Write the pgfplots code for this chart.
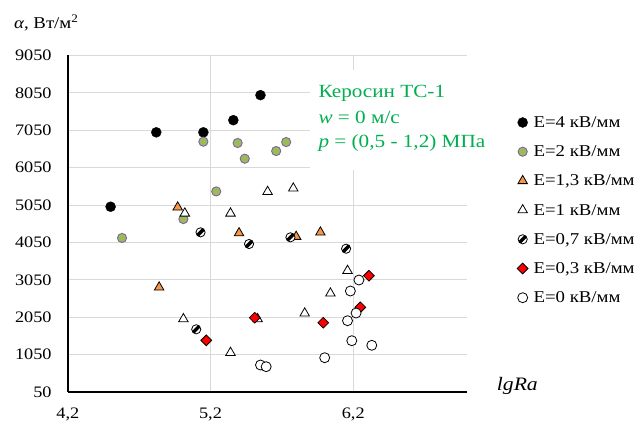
\documentclass[border=0pt]{standalone}
\usepackage{fontspec}
\setmainfont{Liberation Serif}[FakeStretch=1.14]
\usepackage{pgfplots}
\pgfplotsset{compat=1.18}
\definecolor{olivegr}{HTML}{9BBB59}
\definecolor{lavpurp}{HTML}{8064A2}
\definecolor{orng}{HTML}{F79646}
\definecolor{gridgray}{HTML}{D9D9D9}
\definecolor{txtgreen}{HTML}{00B050}
\pgfdeclareplotmark{slashcirc}{%
  \pgfpathcircle{\pgfpointorigin}{\pgfplotmarksize}%
  \pgfsetfillcolor{white}\pgfusepathqfill
  \begin{pgfscope}
    \pgfpathcircle{\pgfpointorigin}{\pgfplotmarksize}\pgfusepathqclip
    \pgfsetlinewidth{0.75\pgfplotmarksize}%
    \pgfsetstrokecolor{black}%
    \pgfpathmoveto{\pgfpoint{-\pgfplotmarksize}{-\pgfplotmarksize}}%
    \pgfpathlineto{\pgfpoint{\pgfplotmarksize}{\pgfplotmarksize}}%
    \pgfusepathqstroke
  \end{pgfscope}
  \pgfsetstrokecolor{black}%
  \pgfpathcircle{\pgfpointorigin}{\pgfplotmarksize}%
  \pgfusepathqstroke
}
\pgfplotsset{
  mk/.style={only marks, legend image code/.code={\draw[##1] plot coordinates {(0pt,0pt)};}},
}
\begin{document}
\begin{tikzpicture}
\path[use as bounding box] (0,0) rectangle (635pt,423pt);
\begin{axis}[
  scale only axis, width=399.6pt, height=336.5pt,
  at={(67.8pt,31pt)}, anchor=south west,
  xmin=4.2, xmax=7.0, ymin=50, ymax=9050,
  xtick={4.2,5.2,6.2}, xticklabels={{4,2},{5,2},{6,2}},
  ytick={50,1050,2050,3050,4050,5050,6050,7050,8050,9050},
  yticklabels={50,1050,2050,3050,4050,5050,6050,7050,8050,9050},
  grid=major, major grid style={draw=gridgray, line width=0.8pt},
  axis lines*=left, axis line style={-, line width=1.6pt, black},
  major tick length=0pt,
  tick label style={font=\fontsize{16}{19}\selectfont, inner sep=0pt},
  yticklabel style={anchor=east, xshift=-16pt},
  xticklabel style={anchor=north, yshift=-15.7pt},
  clip=false,
  legend style={at={(1.1249,0.8217)}, anchor=north west, draw=none, fill=none,
    inner sep=0pt, outer sep=0pt, row sep=15.2pt, column sep=5.5pt,
    font=\fontsize{16.5}{19}\selectfont,
    nodes={inner sep=0pt, text height=12pt, text depth=2pt}},
  legend cell align=left,
]
\addplot[mk, mark=*, mark size=5pt, mark options={draw=black, fill=black}]
  coordinates {(4.50,5005) (4.82,6995) (5.15,6995) (5.36,7320) (5.55,7990)};
\addlegendentry{E=4 кВ/мм}
\addplot[mk, mark=*, mark size=4.6pt, mark options={draw=lavpurp, fill=olivegr, line width=0.9pt}]
  coordinates {(5.15,6745) (5.39,6710) (5.44,6290) (5.66,6495) (5.73,6735) (5.24,5415) (5.01,4675) (4.58,4170)};
\addlegendentry{E=2 кВ/мм}
\addplot[mk, mark=triangle*, mark size=5.5pt, mark options={draw=black, fill=orng, line width=0.8pt}]
  coordinates {(4.97,4990) (5.40,4300) (5.80,4205) (4.84,2850) (5.97,4320)};
\addlegendentry{E=1,3 кВ/мм}
\addplot[mk, mark=triangle*, mark size=5.5pt, mark options={draw=black, fill=white, line width=0.8pt}]
  coordinates {(5.02,4828) (5.34,4828) (5.60,5406) (5.78,5497) (5.01,2002) (5.34,1101) (5.53,2002) (5.86,2154) (6.16,3294) (6.04,2689)};
\addlegendentry{E=1 кВ/мм}
\addplot[mk, mark=slashcirc, mark size=4.6pt, mark options={draw=black, fill=white, line width=0.8pt}]
  coordinates {(5.13,4320) (5.47,4008) (5.76,4187) (5.10,1727) (6.15,3882)};
\addlegendentry{E=0,7 кВ/мм}
\addplot[mk, mark=square*, mark size=3.8pt, mark options={rotate=45, draw=black, fill=red, line width=0.8pt}]
  coordinates {(5.17,1432) (5.51,2037) (5.99,1903) (6.25,2315) (6.31,3160)};
\addlegendentry{E=0,3 кВ/мм}
\addplot[mk, mark=*, mark size=5pt, mark options={draw=black, fill=white, line width=0.8pt}]
  coordinates {(5.55,772) (5.59,727) (6.00,967) (6.19,1422) (6.33,1299) (6.16,1957) (6.22,2162) (6.18,2751) (6.24,3045)};
\addlegendentry{E=0 кВ/мм}
\end{axis}
\fill[white] (310pt,253pt) rectangle (498pt,353pt);
\node[anchor=base west, inner sep=0pt, text=txtgreen, font=\fontsize{18.6}{22}\selectfont] at (318.3pt,325.7pt) {Керосин ТС-1};
\node[anchor=base west, inner sep=0pt, text=txtgreen, font=\fontsize{18.6}{22}\selectfont] at (318.3pt,299.7pt) {\textit{w} = 0 м/с};
\node[anchor=base west, inner sep=0pt, text=txtgreen, font=\fontsize{18.6}{22}\selectfont] at (318.3pt,275.7pt) {\textit{p} = (0,5 - 1,2) МПа};
\node[anchor=base west, inner sep=0pt, font=\fontsize{16.5}{19}\selectfont] at (14pt,394pt) {\textit{α}, Вт/м\textsuperscript{2}};
\node[anchor=base west, inner sep=0pt, font=\fontsize{19}{22}\selectfont\itshape] at (496.7pt,32pt) {lgRa};
\end{tikzpicture}
\end{document}
